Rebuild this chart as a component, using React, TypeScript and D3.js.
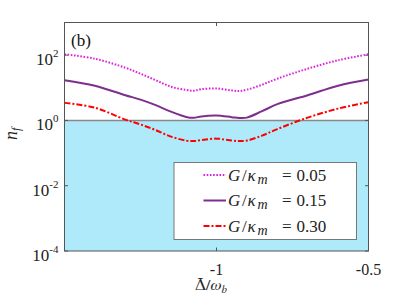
import React from "react";
import * as d3 from "d3";

const detuning = [-1.5, -1.4, -1.3, -1.25, -1.2, -1.15, -1.1, -1.075, -1.05, -1.0, -0.95, -0.925, -0.9, -0.85, -0.8, -0.7, -0.6, -0.5];
const nf005 = [106.6, 77.6, 41.2, 27.0, 17.1, 10.8, 8.57, 8.15, 9.06, 9.52, 8.33, 7.98, 8.75, 12.4, 19.0, 38.4, 69.8, 106.6];
const nf015 = [17.1, 11.6, 5.94, 4.33, 2.94, 1.86, 1.28, 1.2, 1.33, 1.42, 1.26, 1.19, 1.22, 1.92, 3.15, 5.94, 11.6, 17.9];
const nf030 = [3.45, 2.46, 1.06, 0.755, 0.505, 0.32, 0.241, 0.233, 0.25, 0.277, 0.241, 0.233, 0.241, 0.343, 0.542, 1.22, 2.3, 3.63];
const seriesLabels = ["0.05", "0.15", "0.30"];
const xTicks = [-1, -0.5];
const xTickLabels = ["-1", "-0.5"];
const yTickExps = [-4, -2, 0, 2];

const W = 407, H = 305;
const L = 64.5, R = 368.5, T = 22.5, B = 251;
const SERIF = { fontFamily: "'Liberation Serif'" };
const FREE = { fontFamily: "'FreeSerif'" };

export default function App() {
  const x = d3.scaleLinear().domain([-1.5, -0.5]).range([L, R]);
  const y = d3.scaleLog().domain([1e-4, 1e3]).range([B, T]);
  const line = d3
    .line<[number, number]>()
    .x((d) => x(d[0]))
    .y((d) => y(d[1]))
    .curve(d3.curveCatmullRom.alpha(0.5));
  const mk = (arr: number[]) => detuning.map((d, i) => [d, arr[i]] as [number, number]);
  const series = [
    { data: nf005, color: "#dd22dd", dash: "1.6,1.6", label: seriesLabels[0] },
    { data: nf015, color: "#7e2f8e", dash: "", label: seriesLabels[1] },
    { data: nf030, color: "#ff0000", dash: "6,2,2,2", label: seriesLabels[2] },
  ];
  const axisColor = "#555";
  const legX = 174, legY = 162.5, legW = 182.5, legH = 77;
  return (
    <svg width={W} height={H} style={{ position: "absolute", left: 0, top: 0, background: "#fff" }}>
      <rect x={0} y={0} width={W} height={H} fill="#fff" />
      <rect x={L} y={y(1)} width={R - L} height={B - y(1)} fill="#aeeafa" />
      <line x1={L} x2={R} y1={y(1)} y2={y(1)} stroke="#8a8a8a" strokeWidth={1.5} />
      <defs>
        <clipPath id="plotclip">
          <rect x={L} y={T} width={R - L} height={B - T} />
        </clipPath>
      </defs>
      <g clipPath="url(#plotclip)">
        {series.map((s, i) => (
          <path
            key={i}
            d={line(mk(s.data)) || ""}
            fill="none"
            stroke={s.color}
            strokeWidth={2}
            strokeDasharray={s.dash || undefined}
          />
        ))}
      </g>
      <rect x={L} y={T} width={R - L} height={B - T} fill="none" stroke={axisColor} strokeWidth={1} />
      {xTicks.map((t, i) => (
        <g key={i}>
          <line x1={x(t)} x2={x(t)} y1={B} y2={B - 3.5} stroke={axisColor} />
          <line x1={x(t)} x2={x(t)} y1={T} y2={T + 3.5} stroke={axisColor} />
          <text x={x(t)} y={275} fontSize={16} textAnchor="middle" fill="#222" style={SERIF}>
            {xTickLabels[i]}
          </text>
        </g>
      ))}
      {yTickExps.map((e, i) => (
        <g key={i}>
          <line x1={L} x2={L + 3.5} y1={y(Math.pow(10, e))} y2={y(Math.pow(10, e))} stroke={axisColor} />
          <line x1={R} x2={R - 3.5} y1={y(Math.pow(10, e))} y2={y(Math.pow(10, e))} stroke={axisColor} />
          <text x={58.5} y={y(Math.pow(10, e)) + 10} fontSize={17} textAnchor="end" fill="#222" style={SERIF}>
            10
            <tspan dy={-8} fontSize={11}>
              {String(e)}
            </tspan>
          </text>
        </g>
      ))}
      <text x={71} y={46} fontSize={17} fill="#111" style={SERIF}>
        (b)
      </text>
      <text x={211} y={290} fontSize={16} textAnchor="middle" fill="#222" style={FREE}>
        <tspan>{"\u0394\u0304"}</tspan>
        <tspan>/</tspan>
        <tspan fontStyle="italic">ω</tspan>
        <tspan fontStyle="italic" fontSize={11} dy={3}>
          b
        </tspan>
      </text>
      <text transform={`translate(17,${(T + B) / 2 - 3}) rotate(-90)`} fontSize={18} textAnchor="middle" fill="#222" style={SERIF}>
        <tspan fontStyle="italic">n</tspan>
        <tspan fontStyle="italic" fontSize={12} dy={3}>
          f
        </tspan>
      </text>
      <rect x={legX} y={legY} width={legW} height={legH} fill="#fff" stroke="#777" strokeWidth={1} />
      {series.map((s, i) => {
        const cy = 175 + i * 25.5;
        const by = cy + 5.5;
        return (
          <g key={i}>
            <line x1={203.5} x2={226} y1={cy} y2={cy} stroke={s.color} strokeWidth={2} strokeDasharray={s.dash || undefined} />
            <text y={by} fontSize={17} fill="#222" style={SERIF}>
              <tspan x={228} fontStyle="italic">G</tspan>
              <tspan x={242}>/</tspan>
              <tspan x={247.5} fontStyle="italic">κ</tspan>
              <tspan x={257.5} fontStyle="italic" fontSize={14} dy={3}>
                m
              </tspan>
              <tspan x={282} dy={-3}>=</tspan>
              <tspan x={296.5}>{s.label}</tspan>
            </text>
          </g>
        );
      })}
    </svg>
  );
}
